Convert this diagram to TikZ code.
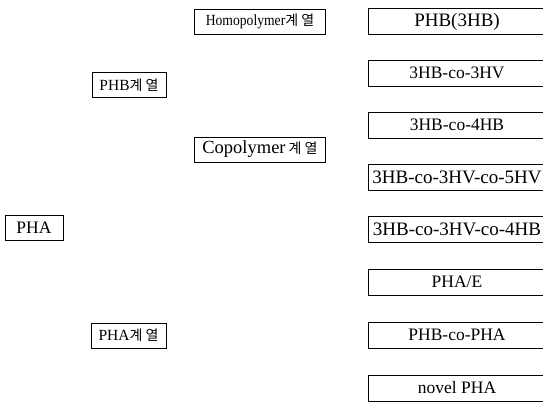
\documentclass[tikz,border=0pt]{standalone}
\usepackage{fontspec}
\setmainfont{Liberation Serif}
\newfontfamily\kr{Noto Sans CJK KR}
\usetikzlibrary{positioning}
\tikzset{catbox/.style={draw, line width=0.7pt, inner sep=0pt, minimum height=25pt,
font=\fontsize{17.5}{19}\selectfont},
kindbox/.style={catbox, minimum width=178pt, minimum height=26pt}}
\newcommand{\gye}{{\kr\fontsize{14}{15}\selectfont 계 열}}

\begin{document}
\begin{tikzpicture}[x=1pt, y=-1pt]
	\useasboundingbox (0,0) rectangle (543,403);
	\clip (0,0) rectangle (543,403);
	% left column
	\node[catbox, minimum width=58pt] (pha) at (34,228) {PHA};
	% middle column
	\node[catbox, minimum width=74pt, font=\fontsize{15.5}{17}\selectfont] (phbser) at (129,85) {PHB\gye};
	\node[catbox, minimum width=75pt, font=\fontsize{15.5}{17}\selectfont] (phaser) at (128.5,335.5) {PHA\gye};
	\node[catbox, minimum width=131pt,
		font=\fontsize{15.5}{17}\selectfont] (homo) at (260,21.5) {\scalebox{0.88}[1]{Homopolymer}\gye};
	\node[catbox, minimum width=131pt, font=\fontsize{18.5}{20}\selectfont] (copo) at (260,149.5) {Copolymer\,\gye};
	% right column
	\node[kindbox, font=\fontsize{19}{20}\selectfont] (k1) at (457,21.5) {PHB(3HB)};
	\node[kindbox] (k2) at (457,73) {3HB-co-3HV};
	\node[kindbox] (k3) at (457,125) {3HB-co-4HB};
	\node[kindbox, font=\fontsize{19}{20}\selectfont] (k4) at (457,177) {3HB-co-3HV-co-5HV};
	\node[kindbox, font=\fontsize{19}{20}\selectfont] (k5) at (457,229) {3HB-co-3HV-co-4HB};
	\node[kindbox] (k6) at (457,282) {PHA/E};
	\node[kindbox] (k7) at (457,335) {PHB-co-PHA};
	\node[kindbox] (k8) at (457,388) {novel PHA};
\end{tikzpicture}
\end{document}
